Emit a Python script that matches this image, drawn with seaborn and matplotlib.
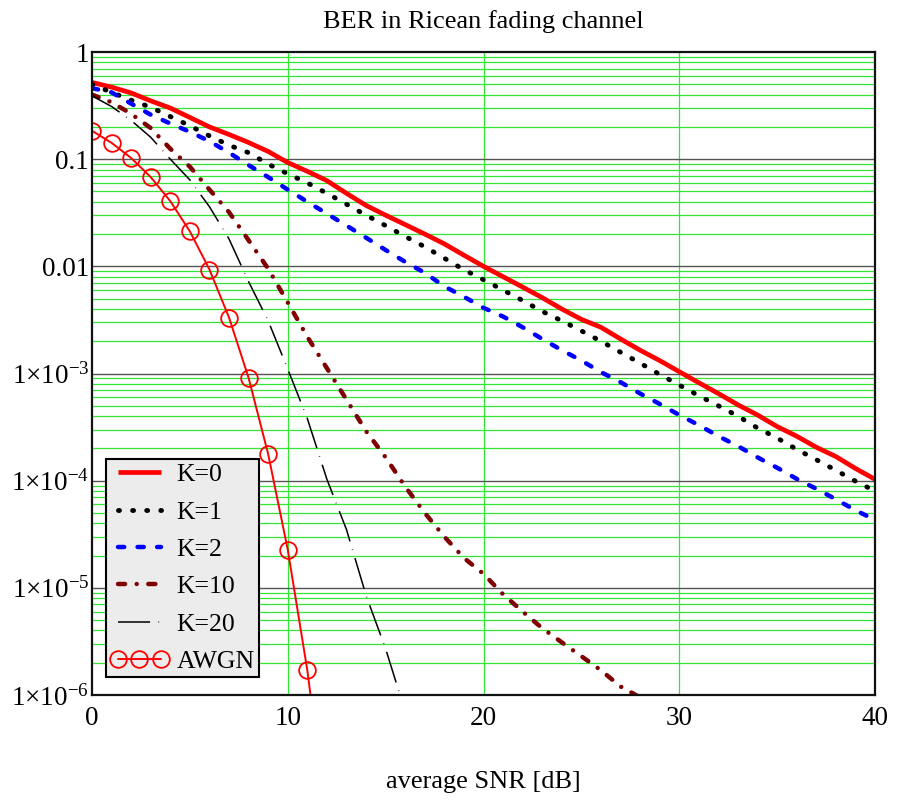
import numpy as np
import pandas as pd
import matplotlib
matplotlib.use("Agg")
import matplotlib.pyplot as plt
import seaborn as sns
from matplotlib.ticker import FixedLocator, FixedFormatter, NullFormatter

# ---------------- data ----------------
snr = list(range(0, 41))
ber_k0 = [0.52, 0.47, 0.415, 0.35, 0.30, 0.245, 0.20, 0.17, 0.143, 0.118,
          0.093, 0.077, 0.063, 0.048, 0.037, 0.030, 0.0245, 0.020, 0.0162, 0.0127,
          0.0100, 0.0080, 0.0064, 0.0051, 0.0040, 0.0032, 0.0027, 0.0021, 0.00165, 0.00132,
          0.00104, 0.00082, 0.00065, 0.00051, 0.00041, 0.00032, 0.00026, 0.000205, 0.000168, 0.000130,
          0.000103]
ber_k1 = [0.50, 0.42, 0.355, 0.305, 0.25, 0.205, 0.165, 0.135, 0.115, 0.090,
          0.073, 0.060, 0.048, 0.038, 0.030, 0.024, 0.019, 0.0152, 0.0119, 0.0093,
          0.0075, 0.0060, 0.0048, 0.0038, 0.0031, 0.0025, 0.0020, 0.00158, 0.00125, 0.00098,
          0.00078, 0.00062, 0.00050, 0.00040, 0.00031, 0.00025, 0.000196, 0.000157, 0.000125, 0.000099,
          0.000080]
ber_k2 = [0.46, 0.42, 0.33, 0.26, 0.215, 0.18, 0.147, 0.115, 0.088, 0.068,
          0.052, 0.040, 0.031, 0.024, 0.0185, 0.0142, 0.011, 0.0087, 0.0065, 0.0052,
          0.0041, 0.0034, 0.0027, 0.0021, 0.00165, 0.00132, 0.00103, 0.00083, 0.00065, 0.00052,
          0.00041, 0.00033, 0.00026, 0.00021, 0.000165, 0.000132, 0.000104, 0.000084, 0.000067, 0.000053,
          0.000043]
snr_k10 = list(range(0, 31))
ber_k10 = [0.40, 0.34, 0.265, 0.195, 0.125, 0.085, 0.052, 0.032, 0.0175, 0.0095,
           0.0046, 0.0022, 0.00112, 0.00057, 0.00029, 0.000165, 0.000088, 0.000050, 0.000030, 0.000019,
           0.0000135, 0.0000087, 0.0000060, 0.0000042, 0.0000031, 0.0000023, 0.0000017, 0.0000012, 0.00000095, 0.0000007,
           0.0000005]
snr_k20 = list(range(0, 17))
ber_k20 = [0.39, 0.31, 0.23, 0.16, 0.10, 0.064, 0.036, 0.018, 0.0072, 0.0031,
           0.0011, 0.00038, 0.000103, 0.000035, 0.0000085, 0.0000027, 0.0000007]
snr_awgn = list(range(0, 13))
ber_awgn = [0.184, 0.142, 0.1025, 0.068, 0.0406, 0.0212, 0.00934, 0.00333, 0.00091, 0.000177,
            0.0000227, 0.0000017, 0.000000065]

y_tick_vals = [1, 0.1, 0.01, 1e-3, 1e-4, 1e-5, 1e-6]
y_tick_labels = ["1", "0.1", "0.01", r"1$\times$10$^{-3}$", r"1$\times$10$^{-4}$",
                 r"1$\times$10$^{-5}$", r"1$\times$10$^{-6}$"]
x_tick_vals = [0, 10, 20, 30, 40]
x_tick_labels = ["0", "10", "20", "30", "40"]

# ---------------- style ----------------
sns.set_style("white")
plt.rcParams["font.family"] = ["Liberation Serif", "DejaVu Serif"]
plt.rcParams["mathtext.fontset"] = "custom"
plt.rcParams["mathtext.rm"] = "Liberation Serif"
plt.rcParams["mathtext.it"] = "Liberation Serif:italic"
plt.rcParams["mathtext.bf"] = "Liberation Serif:bold"
plt.rcParams["text.color"] = "black"
plt.rcParams["axes.labelcolor"] = "black"

fig = plt.figure(figsize=(9.07, 8.01), dpi=100)
ax = fig.add_axes([92 / 907, 1 - 695 / 801, (875 - 92) / 907, (695 - 52) / 801])

ax.set_yscale("log")
ax.set_xlim(0, 40)
ax.set_ylim(1e-6, 1)

# grid
green = "#33e633"
for d in range(-6, 0):
    for m in range(2, 10):
        ax.axhline(m * 10.0 ** d, color=green, lw=0.9, zorder=0.5)
for v in y_tick_vals[1:-1]:
    ax.axhline(v, color="#555555", lw=1.0, zorder=0.6)
for v in [10, 20, 30]:
    ax.axvline(v, color=green, lw=0.9, zorder=0.5)

# curves
sns.lineplot(x=snr, y=ber_k0, ax=ax, color="#ff0000", linewidth=3.4,
             linestyle="-", label="K=0", solid_capstyle="butt")
sns.lineplot(x=snr, y=ber_k1, ax=ax, color="black", linewidth=3.5,
             linestyle=(0, (0.2, 2.7)), dash_capstyle="round", label="K=1")
sns.lineplot(x=snr, y=ber_k2, ax=ax, color="#0000ff", linewidth=3.2,
             linestyle=(0, (1.4, 3.0)), dash_capstyle="round", label="K=2")
sns.lineplot(x=snr_k10, y=ber_k10, ax=ax, color="#800000", linewidth=3.2,
             linestyle=(0, (1.6, 2.6, 0.01, 2.6)), dash_capstyle="round", label="K=10")
sns.lineplot(x=snr_k20, y=ber_k20, ax=ax, color="black", linewidth=1.1,
             linestyle=(0, (21.0, 5.5, 0.4, 5.5)), label="K=20")
sns.lineplot(x=snr_awgn, y=ber_awgn, ax=ax, color="#ff0000", linewidth=1.4,
             marker="o", markersize=12, markerfacecolor="none",
             markeredgecolor="#ff0000", markeredgewidth=1.3, label="AWGN")

# ticks
ax.yaxis.set_major_locator(FixedLocator(y_tick_vals))
ax.yaxis.set_major_formatter(FixedFormatter(y_tick_labels))
ax.yaxis.set_minor_formatter(NullFormatter())
ax.xaxis.set_major_locator(FixedLocator(x_tick_vals))
ax.xaxis.set_major_formatter(FixedFormatter(x_tick_labels))
ax.tick_params(axis="both", which="both", length=0, labelsize=19.5,
               colors="black", labelcolor="black")
ax.tick_params(axis="y", pad=2)
ax.tick_params(axis="x", pad=8)

for s in ax.spines.values():
    s.set_color("#111111")
    s.set_linewidth(1.6)
    s.set_zorder(5)

ax.set_title("BER in Ricean fading channel", fontsize=19, pad=17, color="black")
ax.set_xlabel("average SNR [dB]", fontsize=19, labelpad=29, color="black")
ax.set_ylabel("")

leg = ax.legend(loc="lower left", bbox_to_anchor=(0.018, 0.028), borderaxespad=0,
                fontsize=18.5, frameon=True, fancybox=False, facecolor="#ececec",
                edgecolor="black", framealpha=1, numpoints=3, handlelength=2.3,
                handletextpad=0.3, labelspacing=0.56, borderpad=0.15)
leg.get_frame().set_linewidth(1.5)
leg.set_zorder(10)
for t in leg.get_texts():
    t.set_color("black")

fig.savefig("out.png", dpi=100)
